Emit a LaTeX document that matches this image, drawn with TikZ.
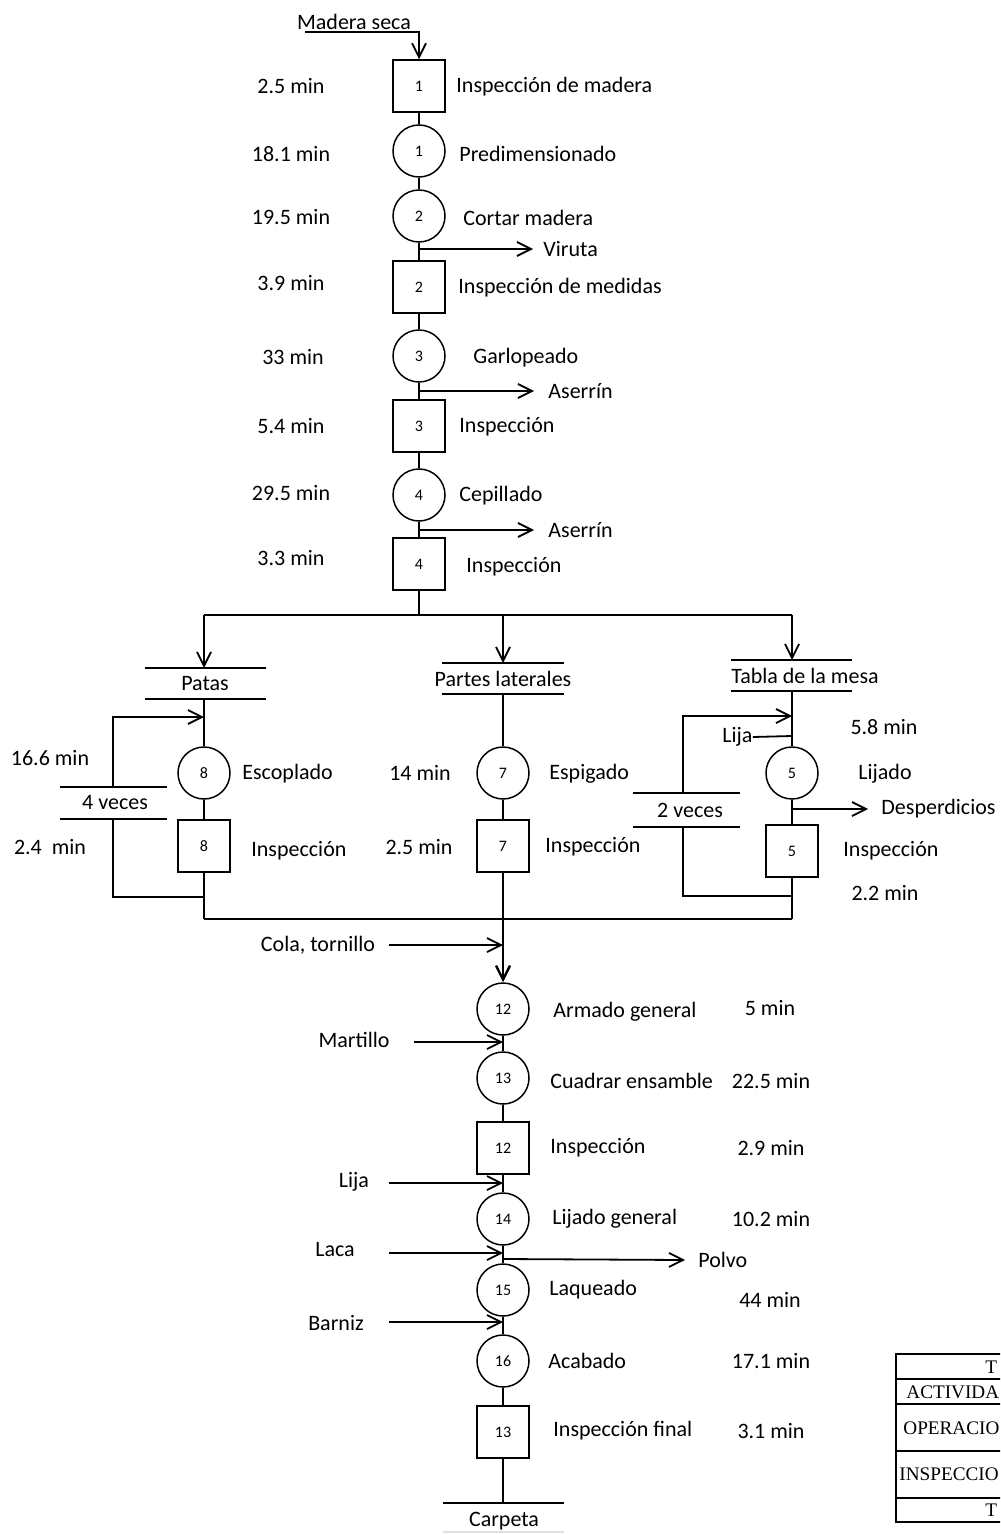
\documentclass[tikz,border=0pt]{standalone}
\usepackage{fontspec}
\setmainfont{Carlito}
\newfontfamily\tablefont{Liberation Serif}
\usetikzlibrary{arrows.meta}
\begin{document}
\begin{tikzpicture}[x=0.5pt,y=-0.5pt,
  font=\fontsize{11}{13}\selectfont,
  op/.style={circle,draw,line width=0.75pt,minimum size=26pt,inner sep=0pt,font=\fontsize{8}{9}\selectfont},
  insp/.style={rectangle,draw,line width=0.75pt,minimum size=26pt,inner sep=0pt,font=\fontsize{8}{9}\selectfont},
  lbl/.style={anchor=west,inner sep=0pt},
  tm/.style={inner sep=0pt},
  flow/.style={line width=0.9pt},
  bold/.style={line width=1.4pt},
  arr/.style={flow,-{Straight Barb[length=7pt,width=7pt,line width=0.9pt]}},
  barr/.style={bold,-{Straight Barb[length=7pt,width=7pt,line width=1.2pt]}},
  bar/.style={line width=0.9pt},
  tcell/.style={anchor=west,inner sep=0pt,font=\tablefont\fontsize{9.6}{11}\selectfont},
]
\useasboundingbox (0,0) rectangle (1000,1534);

% ---------------- main column ----------------
\node[tm] (madera) at (354,22) {Madera seca};
\coordinate (ms) at (305,32);
\node[insp] (i1) at (419,86) {1};
\node[op] (o1) at (419,151) {1};
\node[op] (o2) at (419,216) {2};
\node[insp] (i2) at (419,287) {2};
\node[op] (o3) at (419,356) {3};
\node[insp] (i3) at (419,426) {3};
\node[op] (o4) at (419,495) {4};
\node[insp] (i4) at (419,564) {4};

\draw[arr] (ms) -| (i1.north);
\draw[flow] (i1) -- (o1);
\draw[flow] (o1) -- (o2);
\draw[flow] (o2) -- (i2);
\draw[flow] (i2) -- (o3);
\draw[flow] (o3) -- (i3);
\draw[flow] (i3) -- (o4);
\draw[flow] (o4) -- (i4);

\node[lbl] (lb1) at (456,87) {Inspección de madera};
\node[lbl] (lb2) at (459,154) {Predimensionado};
\node[lbl] (lb3) at (463,218) {Cortar madera};
\node[lbl] (lb4) at (458,288) {Inspección de medidas};
\node[lbl] (lb5) at (473,358) {Garlopeado};
\node[lbl] (lb6) at (459,427) {Inspección};
\node[lbl] (lb7) at (459,496) {Cepillado};
\node[lbl] (lb8) at (466,567) {Inspección};

\node[tm] (t1) at (291,86) {2.5 min};
\node[tm] (t2) at (291,154) {18.1 min};
\node[tm] (t3) at (291,217) {19.5 min};
\node[tm] (t4) at (291,283) {3.9 min};
\node[tm] (t5) at (293,357) {33 min};
\node[tm] (t6) at (291,426) {5.4 min};
\node[tm] (t7) at (291,493) {29.5 min};
\node[tm] (t8) at (291,558) {3.3 min};

% outputs
\coordinate (vo) at (419,249);
\node[lbl] (viruta) at (543,249) {Viruta};
\draw[arr] (vo) -- ([xshift=-5pt]viruta.west);
\coordinate (a1o) at (419,391);
\node[lbl] (aserrin1) at (548,391) {Aserrín};
\draw[arr] (a1o) -- ([xshift=-7pt]aserrin1.west);
\coordinate (a2o) at (419,530);
\node[lbl] (aserrin2) at (548,530) {Aserrín};
\draw[arr] (a2o) -- ([xshift=-7pt]aserrin2.west);

% ---------------- split ----------------
\coordinate (split) at (419,615);
\coordinate (sl) at (204,615);
\coordinate (sm) at (503,615);
\coordinate (sr) at (792,615);
\draw[bold] (i4) -- (split);
\draw[bold] (sl) -- (sr);

% ---------------- left branch: Patas ----------------
\node[tm] (patas) at (205,684) {Patas};
\coordinate (pT) at (204,668);
\coordinate (pB) at (204,699);
\draw[bar] (145,668) -- (266,668);
\draw[bar] (145,699) -- (266,699);
\draw[arr] (sl) -- (pT);
\node[op] (o8) at (204,773) {8};
\node[insp] (i8) at (204,846) {8};
\draw[flow] (pB) -- (o8);
\draw[flow] (o8) -- (i8);
\coordinate (l8in) at (204,717);
\coordinate (l8out) at (204,897);
\node[tm] (v4) at (115,803) {4 veces};
\draw[bar] (60,787) -- (167,787);
\draw[bar] (60,819) -- (167,819);
\coordinate (v4T) at (113,787);
\coordinate (v4B) at (113,819);
\draw[arr] (v4T) |- (l8in);
\draw[flow] (v4B) |- (l8out);
\node[lbl] (lb9) at (242,774) {Escoplado};
\node[lbl] (lb10) at (251,851) {Inspección};
\node[tm] (t9) at (50,758) {16.6 min};
\node[tm] (t10) at (50,847) {2.4\ \ min};
\coordinate (cl) at (204,919);
\draw[flow] (i8) -- (cl);

% ---------------- middle branch ----------------
\node[tm] (partes) at (503,679) {Partes laterales};
\coordinate (mT) at (503,663);
\coordinate (mB) at (503,694);
\draw[bar] (442,663) -- (564,663);
\draw[bar] (442,694) -- (564,694);
\draw[arr] (sm) -- (mT);
\node[op] (o7) at (503,773) {7};
\node[insp] (i7) at (503,846) {7};
\draw[flow] (mB) -- (o7);
\draw[flow] (o7) -- (i7);
\node[lbl] (lb11) at (549,774) {Espigado};
\node[lbl] (lb12) at (545,847) {Inspección};
\node[tm] (t11) at (420,773) {14 min};
\node[tm] (t12) at (419,847) {2.5 min};
\coordinate (cm) at (503,919);

% ---------------- right branch ----------------
\node[tm] (tabla) at (805,676) {Tabla de la mesa};
\coordinate (rT) at (792,660);
\coordinate (rB) at (792,691);
\draw[bar] (731,660) -- (852,660);
\draw[bar] (731,691) -- (852,691);
\draw[arr] (sr) -- (rT);
\node[op] (o5) at (792,773) {5};
\node[insp] (i5) at (792,851) {5};
\draw[flow] (rB) -- (o5);
\draw[flow] (o5) -- (i5);
\coordinate (l5in) at (792,716);
\coordinate (l5out) at (792,896);
\node[tm] (v2) at (690,810) {2 veces};
\draw[bar] (633,793) -- (740,793);
\draw[bar] (633,827) -- (740,827);
\coordinate (v2T) at (683,793);
\coordinate (v2B) at (683,827);
\draw[arr] (v2T) |- (l5in);
\draw[flow] (v2B) |- (l5out);
\node[lbl] (lija5) at (722,737) {Lija};
\coordinate (lija5in) at (792,736);
\draw[flow] (lija5.east) -- (lija5in);
\coordinate (dso) at (792,809);
\node[lbl] (desp) at (881,809) {Desperdicios};
\draw[arr] (dso) -- ([xshift=-6.5pt]desp.west);
\node[tm] (t13) at (884,727) {5.8 min};
\node[lbl] (lb13) at (858,774) {Lijado};
\node[lbl] (lb14) at (843,851) {Inspección};
\node[tm] (t14) at (885,893) {2.2 min};
\coordinate (cr) at (792,919);
\draw[flow] (i5) -- (cr);

% ---------------- join ----------------
\draw[bold] (cl) -- (cr);

% ---------------- assembly ----------------
\node[op] (o12) at (503,1009) {12};
\node[op] (o13) at (503,1078) {13};
\node[insp] (i12) at (503,1148) {12};
\node[op] (o14) at (503,1219) {14};
\node[op] (o15) at (503,1290) {15};
\node[op] (o16) at (503,1361) {16};
\node[insp] (i13) at (503,1432) {13};

\draw[bold] (i7) -- (cm);
\draw[barr] (cm) -- (o12);
\draw[flow] (o12) -- (o13);
\draw[flow] (o13) -- (i12);
\draw[flow] (i12) -- (o14);
\draw[flow] (o14) -- (o15);
\draw[flow] (o15) -- (o16);
\draw[flow] (o16) -- (i13);

% inputs
\node[tm] (cola) at (318,945) {Cola, tornillo};
\coordinate (colaS) at (389,945);
\coordinate (colaE) at (503,945);
\draw[arr] (colaS) -- (colaE);
\node[tm] (martillo) at (354,1040) {Martillo};
\coordinate (marS) at (414,1042);
\coordinate (marE) at (503,1042);
\draw[arr] (marS) -- (marE);
\node[tm] (lija) at (354,1182) {Lija};
\coordinate (lijS) at (389,1183);
\coordinate (lijE) at (503,1183);
\draw[arr] (lijS) -- (lijE);
\node[tm] (laca) at (335,1250) {Laca};
\coordinate (lacS) at (389,1253);
\coordinate (lacE) at (503,1253);
\draw[arr] (lacS) -- (lacE);
\node[tm] (barniz) at (336,1323) {Barniz};
\coordinate (barS) at (389,1322);
\coordinate (barE) at (503,1322);
\draw[arr] (barS) -- (barE);
% output
\coordinate (polS) at (503,1259);
\node[lbl] (polvo) at (698,1260) {Polvo};
\draw[arr] (polS) -- ([xshift=-6.5pt]polvo.west);

% labels
\node[lbl] (lb20) at (553,1012) {Armado general};
\node[lbl] (lb21) at (550,1081) {Cuadrar ensamble};
\node[lbl] (lb22) at (550,1148) {Inspección};
\node[lbl] (lb23) at (552,1219) {Lijado general};
\node[lbl] (lb24) at (549,1290) {Laqueado};
\node[lbl] (lb25) at (548,1361) {Acabado};
\node[lbl] (lb26) at (553,1431) {Inspección final};
\node[tm] (t20) at (770,1008) {5 min};
\node[tm] (t21) at (771,1081) {22.5 min};
\node[tm] (t22) at (771,1148) {2.9 min};
\node[tm] (t23) at (771,1219) {10.2 min};
\node[tm] (t24) at (770,1300) {44 min};
\node[tm] (t25) at (771,1361) {17.1 min};
\node[tm] (t26) at (771,1431) {3.1 min};

% end
\coordinate (endp) at (503,1503);
\draw[flow] (i13) -- (endp);
\draw[bar] (443,1503) -- (564,1503);
\node[tm] (carpeta) at (504,1521) {Carpeta};
\draw[black!12,line width=0.6pt] (443,1532) -- (564,1532);

% ---------------- summary table (clipped) ----------------
\begin{scope}
\clip (0,0) rectangle (1000,1534);
\draw[line width=0.8pt] (896,1354) rectangle (1010,1522);
\draw[line width=0.8pt] (896,1379) -- (1010,1379);
\draw[line width=0.8pt] (896,1404) -- (1010,1404);
\draw[line width=0.8pt] (896,1451) -- (1010,1451);
\draw[line width=0.8pt] (896,1498) -- (1010,1498);
\node[tcell] (tb1) at (985,1367) {T};
\node[tcell] (tb2) at (906,1392) {ACTIVIDA};
\node[tcell] (tb3) at (903,1428) {OPERACIO};
\node[tcell] (tb4) at (899,1474) {INSPECCIO};
\node[tcell] (tb5) at (985,1510) {T};
\end{scope}
\end{tikzpicture}
\end{document}
